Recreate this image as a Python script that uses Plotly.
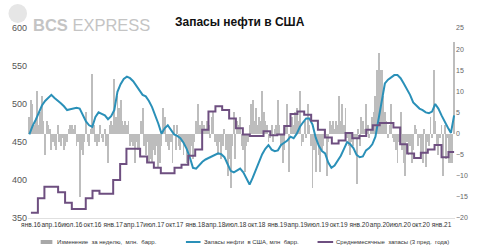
import plotly.graph_objects as go
import pandas as pd

# ---------------- data ----------------
week_dates = pd.date_range(end="2021-02-26", periods=271, freq="7D")
weekly_change = [
    4, 8, 7, 2, 3, 10, 2, 5, 9, 3,
    -5, 3, 2, 1, -4, -2, -3, -4, 2, -2,
    -3, -1, -4, -3, -2, 1, 2, 2, 1, 2,
    -3, -2, -15, -4, -5, -2, 5, -2, -3, 1,
    14, 2, -2, -3, -2, 2, -1, -2, 1, -3,
    -7, 2, 3, 2, 13, 4, 9, 6, 8, 3,
    2, 3, 2, 3, -3, -2, -3, -7, -2, -4,
    -5, 3, 6, -3, -5, -2, -7, -6, -7, -4,
    -5, -3, -8, -7, -3, 6, 4, -2, -3, -4,
    -2, -7, 2, -4, 2, -3, -4, -2, -5, -3,
    -7, -6, -5, -3, -6, -2, 3, 7, 2, 2,
    3, 2, 1, 3, 2, -1, 4, 5, -2, -3,
    -5, -2, -6, -3, 1, -4, -10, -6, -13, -3,
    5, -6, 3, 2, 4, -3, -4, -9, -3, -2,
    2, 7, 8, 3, 6, 2, 4, 3, 10, 5,
    3, 2, -2, -1, 2, -2, 1, 2, 8, 2,
    -3, -7, -4, 2, 7, -9, 3, 4, 2, 5,
    6, 3, 10, -3, -2, 3, -1, 7, 2, -3,
    -13, -4, -9, -2, -5, -9, -4, -3, 1, -10,
    -2, 3, 2, 3, 1, 3, 2, 9, 3, 7,
    2, 6, -1, -3, -5, -2, -3, -1, -12, 1,
    -3, 4, 3, 1, 7, 2, -1, 1, 4, 5,
    9, 15, 19, 15, 15, 9, 5, 3, -1, 2,
    7, -1, -2, -4, -7, -2, 5, -4, -7, -10,
    -2, -5, -3, -7, -4, 2, 1, -3, -1, -5,
    -7, 1, -8, -2, -3, 4, -1, 15, 3, -3,
    -5, -1, 2, -10, 2, -6, -1, -7, -7, -7, 21.6,
]

stock_dates = pd.date_range(end="2021-02-26", periods=136, freq="14D")
stocks = [
    460, 471, 479, 488, 498, 504, 508, 512, 508, 505,
    501, 497, 492, 493, 494, 495, 494, 485, 477, 472,
    470, 483, 489, 487, 485, 480, 484, 492, 516, 526,
    533, 536, 534, 530, 524, 518, 512, 510, 504, 496,
    486, 474, 461, 468, 472, 466, 460, 458, 455, 449,
    441, 430, 416, 415, 420, 424, 427, 429, 431, 433,
    435, 434, 430, 421, 412, 410, 412, 415, 410, 401,
    394, 403, 413, 424, 434, 441, 446, 440, 438, 439,
    446, 449, 452, 457, 455, 461, 470, 476, 481, 481,
    473, 456, 445, 438, 435, 423, 416, 419, 425, 432,
    441, 450, 447, 442, 433, 430, 431, 439, 442, 447,
    457, 480, 507, 527, 532, 535, 538, 538, 534, 527,
    520, 512, 502, 498, 494, 492, 489, 488, 490, 500,
    494, 485, 476, 469, 462, 485,
]

avg_months = pd.date_range("2016-01-01", periods=62, freq="MS")
avg3y = [
    357, 376, 391, 391, 384, 370, 362, 362, 376, 386,
    382, 382, 400, 421, 441, 441, 431, 423, 416, 409,
    409, 416, 420, 432, 440, 466, 490, 497, 492, 481,
    468, 460, 458, 458, 464, 459, 460, 471, 487, 490,
    486, 478, 466, 456, 448, 452, 462, 455, 458, 466,
    472, 475, 475, 469, 447, 435, 429, 436, 440, 446,
    430, 437,
]

tick_dates = pd.date_range("2016-01-01", "2021-01-01", freq="QS")
ru = {1: "янв", 4: "апр", 7: "июл", 10: "окт"}
tick_labels = [f"{ru[d.month]}.{d.year % 100}" for d in tick_dates]

legend_names = ["Изменение  за неделю,  млн.  барр.",
                "Запасы нефти  в США, млн  барр.",
                "Среднемесячные  запасы (3 пред.  года)"]

# ---------------- styling ----------------
BAR_C = "#bdbdbd"
BLUE = "#2a90b8"
PURPLE = "#6e4f80"
W, H = 480, 252
L, R, T, B = 23, 461, 28, 218


def px_x(px):
    return (px - L) / (R - L)


def px_y(py):
    return (B - py) / (B - T)


fig = go.Figure()
fig.add_trace(go.Bar(x=week_dates, y=weekly_change, marker_color=BAR_C,
                     marker_line_width=0, width=4 * 86400000,
                     yaxis="y", showlegend=False))
fig.add_trace(go.Scatter(x=stock_dates, y=stocks, mode="lines",
                         line=dict(color=BLUE, width=2), yaxis="y2",
                         showlegend=False))
fig.add_trace(go.Scatter(x=list(avg_months) + [week_dates[-1]],
                         y=avg3y + [avg3y[-1]], mode="lines",
                         line=dict(color=PURPLE, width=2, shape="hv"),
                         yaxis="y2", showlegend=False))

fig.update_layout(
    width=W, height=H,
    margin=dict(l=L, r=W - R, t=T, b=H - B),
    paper_bgcolor="white", plot_bgcolor="white",
    font=dict(family="Liberation Sans, Arial, sans-serif", color="#555"),
    bargap=0,
    xaxis=dict(type="date", range=["2015-12-19", "2021-03-02"],
               tickvals=tick_dates, ticktext=tick_labels, tickangle=0,
               tickfont=dict(size=6.5, color="#333", family="Liberation Sans, Arial"),
               showgrid=False, zeroline=False, showline=True,
               linecolor="#e0e0e0", linewidth=1, ticks="", ticklen=0),
    yaxis=dict(range=[-20, 25], side="right", tickvals=list(range(-20, 26, 5)),
               tickfont=dict(size=7, color="#666"), showgrid=False,
               zeroline=False, showline=False, ticks=""),
    yaxis2=dict(range=[350, 600], overlaying="y", side="left",
                tickvals=list(range(350, 601, 50)),
                tickfont=dict(size=9, color="#555"), showgrid=False,
                zeroline=False, showline=False, ticks=""),
)

# title and logo
fig.add_annotation(text="<b>Запасы нефти в США</b>", x=px_x(240), y=px_y(13),
                   xref="paper", yref="paper", showarrow=False,
                   font=dict(size=12, color="#111", family="Liberation Sans, Arial"))
fig.add_shape(type="circle", xref="paper", yref="paper",
              x0=px_x(3), x1=px_x(22), y0=px_y(23), y1=px_y(4),
              fillcolor="#e6e6e6", line=dict(width=0))
fig.add_annotation(text="<b>BCS</b> EXPRESS", x=px_x(26), y=px_y(14),
                   xref="paper", yref="paper", showarrow=False, xanchor="left",
                   font=dict(size=16.5, color="#c4c4c4", family="Liberation Sans, Arial"))

# legend
ly = px_y(242)
fig.add_shape(type="rect", xref="paper", yref="paper",
              x0=px_x(36), x1=px_x(48), y0=px_y(244), y1=px_y(240),
              fillcolor="#a8a8a8", line=dict(width=0))
fig.add_shape(type="line", xref="paper", yref="paper",
              x0=px_x(185), x1=px_x(200), y0=ly, y1=ly,
              line=dict(color=BLUE, width=2))
fig.add_shape(type="line", xref="paper", yref="paper",
              x0=px_x(320), x1=px_x(336), y0=ly, y1=ly,
              line=dict(color=PURPLE, width=2))
for xpx, txt in [(51, legend_names[0]), (201, legend_names[1]), (337, legend_names[2])]:
    fig.add_annotation(text=txt, x=px_x(xpx), y=ly, xref="paper", yref="paper",
                       showarrow=False, xanchor="left", yanchor="middle",
                       font=dict(size=6, color="#333"))

fig.write_html("out.html")
